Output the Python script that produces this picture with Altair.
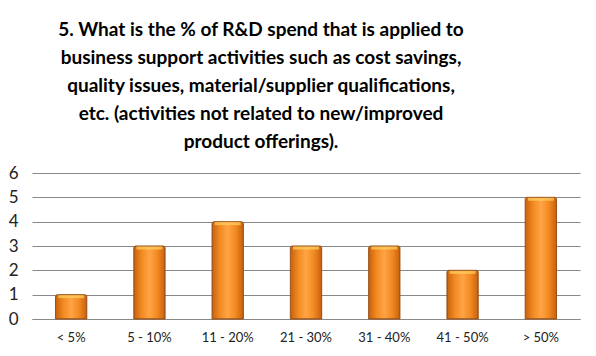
import altair as alt
import pandas as pd

categories = ["< 5%", "5 - 10%", "11 - 20%", "21 - 30%", "31 - 40%", "41 - 50%", "> 50%"]
values = [1, 3, 4, 3, 3, 2, 5]
y_ticks = [0, 1, 2, 3, 4, 5, 6]
title_lines = [
    "5. What is the % of R&D spend that is applied to",
    "business support activities such as cost savings,",
    "quality issues, material/supplier qualifications,",
    "etc. (activities not related to new/improved",
    "product offerings).",
]

df = pd.DataFrame({"category": categories, "value": values})

grad = alt.Gradient(
    gradient="linear",
    x1=0, x2=1, y1=0, y2=0,
    stops=[
        alt.GradientStop(color="#C8600E", offset=0),
        alt.GradientStop(color="#F28A22", offset=0.25),
        alt.GradientStop(color="#FFA445", offset=0.5),
        alt.GradientStop(color="#F28A22", offset=0.75),
        alt.GradientStop(color="#C8600E", offset=1),
    ],
)

x_enc = alt.X("category:N", sort=categories, title=None,
              scale=alt.Scale(paddingInner=0.6, paddingOuter=0.3),
              axis=alt.Axis(labelAngle=0, labelFont="Lato", labelFontSize=13, labelColor="#222",
                            ticks=False, domain=True, domainColor="#888", labelPadding=12))
y_enc = alt.Y("value:Q", title=None,
              scale=alt.Scale(domain=[0, 6], nice=False),
              axis=alt.Axis(values=y_ticks, labelFont="Lato", labelFontSize=17, labelColor="#222",
                            ticks=False, domain=False, grid=True, gridColor="#888",
                            labelPadding=14, labelOverlap=False))

bars = alt.Chart(df).mark_bar(
    color=grad, stroke="#9A5218", strokeWidth=1, cornerRadiusTopLeft=2, cornerRadiusTopRight=2
).encode(x=x_enc, y=y_enc)

cap = alt.Chart(df).mark_tick(
    color="#FFD060", thickness=3, size=26, yOffset=2
).encode(x=x_enc, y=y_enc)

chart = alt.layer(bars, cap).properties(
    width=548,
    height=146,
    padding={"left": 24, "top": 165, "right": 8, "bottom": 30},
    autosize=alt.AutoSizeParams(type="none"),
    title=alt.TitleParams(
        text=title_lines, font="Lato", fontSize=19, fontWeight="bold", color="#000",
        lineHeight=28, anchor="middle", dx=-45, offset=12,
    ),
).configure_view(stroke=None)

chart.save("out.html", embed_options={"renderer": "svg", "actions": False})
